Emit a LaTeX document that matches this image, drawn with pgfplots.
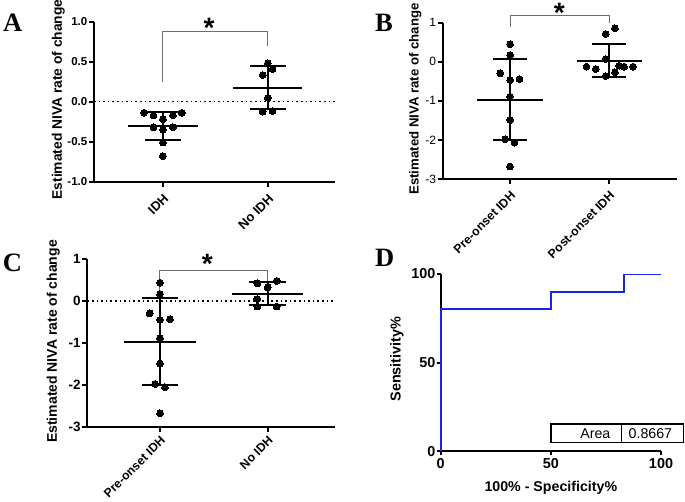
\documentclass[border=0pt]{standalone}
\usepackage{fontspec}
\setmainfont{Liberation Sans}
\newfontfamily\panelfont{Liberation Serif}
\usepackage{pgfplots}
\pgfplotsset{compat=1.18}
\definecolor{roc}{RGB}{25,35,235}
\definecolor{brk}{RGB}{110,110,110}
\pgfplotsset{
  gp/.style={
    scale only axis, clip=false,
    axis lines=left,
    axis line style={-, line width=1.7pt, black},
    every tick/.style={black, line width=1.7pt},
    tick align=outside,
    major tick length=5pt,
    xtick={0,1},
    every axis plot/.append style={black, line width=1.7pt},
    yticklabel style={inner sep=1.5pt},
    /pgf/number format/assume math mode=true,
  },
  rotlab/.style={xticklabel style={rotate=45, anchor=north east, inner sep=1pt}, xticklabel shift=5pt},
  dots/.style={only marks, mark=*, mark size=3.4pt, mark options={fill=black, draw=black, line width=0pt}},
  mean/.style={black, line width=1.8pt},
  brack/.style={brk, line width=1pt},
  zero/.style={black, line width=1.6pt, dash pattern=on 1.6pt off 3pt},
}
\begin{document}
\begin{tikzpicture}
\path[use as bounding box] (0pt,0pt) rectangle (685pt,501pt);

% Panel letters
\node[anchor=base, inner sep=0pt, font=\panelfont\fontsize{26.5}{28}\selectfont\bfseries] at (12.7pt,469.3pt) {A};
\node[anchor=base, inner sep=0pt, font=\panelfont\fontsize{26.5}{28}\selectfont\bfseries] at (384pt,469.3pt) {B};
\node[anchor=base, inner sep=0pt, font=\panelfont\fontsize{26.5}{28}\selectfont\bfseries] at (12.5pt,229.3pt) {C};
\node[anchor=base, inner sep=0pt, font=\panelfont\fontsize{26.5}{28}\selectfont\bfseries] at (384.7pt,234.3pt) {D};

% ---------------- Panel A ----------------
\begin{axis}[gp, rotlab, at={(94pt,319.3pt)}, anchor=south west, width=241pt, height=160pt,
  xmin=-0.657, xmax=1.64, ymin=-1, ymax=1,
  ytick={-1,-0.5,0,0.5,1}, yticklabels={-1.0,-0.5,0.0,0.5,1.0},
  xticklabels={IDH,No IDH},
  yticklabel style={font=\fontsize{11.5}{13}\selectfont\bfseries},
  xticklabel style={font=\fontsize{13}{15}\selectfont\bfseries},
  ylabel={Estimated NIVA rate of change},
  ylabel style={at={(axis description cs:-0.12,0.514)}, anchor=south, inner sep=0pt, font=\fontsize{13.8}{15}\selectfont\bfseries},
]
\addplot[zero] coordinates {(-0.657,0) (1.64,0)};
\addplot[brack] coordinates {(0,0.24) (0,0.883) (1,0.883) (1,0.696)};
% IDH
\addplot[mean] coordinates {(-0.33,-0.304) (0.33,-0.304)};
\addplot[mean] coordinates {(-0.17,-0.125) (0.17,-0.125)};
\addplot[mean] coordinates {(-0.17,-0.479) (0.17,-0.479)};
\addplot[mean] coordinates {(0,-0.125) (0,-0.479)};
\addplot[dots] coordinates {(-0.18,-0.14) (-0.09,-0.17) (0,-0.22) (0.095,-0.17) (0.18,-0.14)
  (-0.09,-0.32) (0,-0.35) (0.095,-0.32) (0,-0.51) (0,-0.68)};
% No IDH
\addplot[mean] coordinates {(0.67,0.171) (1.33,0.171)};
\addplot[mean] coordinates {(0.83,0.446) (1.17,0.446)};
\addplot[mean] coordinates {(0.83,-0.096) (1.17,-0.096)};
\addplot[mean] coordinates {(1,0.446) (1,-0.096)};
\addplot[dots] coordinates {(1,0.479) (1.045,0.408) (0.95,0.333) (1,0.05) (0.95,-0.125) (1.045,-0.117)};
\node[anchor=north, inner sep=0pt, font=\fontsize{28}{30}\selectfont\bfseries] at (axis cs:0.44,1.04) {*};
\end{axis}

% ---------------- Panel B ----------------
\begin{axis}[gp, rotlab, at={(442.7pt,322pt)}, anchor=south west, width=234pt, height=156.3pt,
  xmin=-0.68, xmax=1.68, ymin=-3, ymax=1,
  ytick={-3,-2,-1,0,1}, yticklabels={-3,-2,-1,0,1},
  xticklabels={Pre-onset IDH,Post-onset IDH},
  yticklabel style={font=\fontsize{12}{14}\selectfont},
  xticklabel style={font=\fontsize{12.3}{14}\selectfont\bfseries},
  ylabel={Estimated NIVA rate of change},
  ylabel style={at={(axis description cs:-0.09,0.512)}, anchor=south, inner sep=0pt, font=\fontsize{13.2}{15}\selectfont\bfseries},
]
\addplot[brack] coordinates {(0,0.9) (0,1.19) (1,1.19) (1,1.0)};
% Pre-onset
\addplot[mean] coordinates {(-0.33,-0.97) (0.33,-0.97)};
\addplot[mean] coordinates {(-0.17,0.062) (0.17,0.062)};
\addplot[mean] coordinates {(-0.17,-2.01) (0.17,-2.01)};
\addplot[mean] coordinates {(0,0.062) (0,-2.01)};
\addplot[dots] coordinates {(0,0.446) (0,0.173) (-0.1,-0.296) (0,-0.467) (0.094,-0.441)
  (0,-0.893) (0,-1.49) (-0.05,-1.985) (0.044,-2.07) (0,-2.68)};
% Post-onset
\addplot[mean] coordinates {(0.67,0.03) (1.33,0.03)};
\addplot[mean] coordinates {(0.83,0.446) (1.17,0.446)};
\addplot[mean] coordinates {(0.83,-0.38) (1.17,-0.38)};
\addplot[mean] coordinates {(1,0.446) (1,-0.38)};
\addplot[dots] coordinates {(1.057,0.855) (0.963,0.71) (0.963,0.07) (0.77,-0.126) (0.865,-0.186)
  (1.1,-0.10) (1.15,-0.126) (1.24,-0.126) (1.057,-0.27) (0.963,-0.365)};
\node[anchor=north, inner sep=0pt, font=\fontsize{28}{30}\selectfont\bfseries] at (axis cs:0.495,1.51) {*};
\end{axis}

% ---------------- Panel C ----------------
\begin{axis}[gp, rotlab, xticklabel shift=2pt, at={(87.3pt,74.3pt)}, anchor=south west, width=247.7pt, height=167.4pt,
  xmin=-0.675, xmax=1.625, ymin=-3, ymax=1,
  ytick={-3,-2,-1,0,1}, yticklabels={-3,-2,-1,0,1},
  xticklabels={Pre-onset IDH,No IDH},
  yticklabel style={font=\fontsize{13.5}{15}\selectfont\bfseries},
  xticklabel style={font=\fontsize{12.2}{14}\selectfont\bfseries},
  ylabel={Estimated NIVA rate of change},
  ylabel style={at={(axis description cs:-0.11,0.509)}, anchor=south, inner sep=0pt, font=\fontsize{14}{16}\selectfont\bfseries},
]
\addplot[zero] coordinates {(-0.675,0) (1.625,0)};
\addplot[brack] coordinates {(0,0.1) (0,0.744) (1,0.744) (1,0.46)};
% Pre-onset
\addplot[mean] coordinates {(-0.33,-0.968) (0.33,-0.968)};
\addplot[mean] coordinates {(-0.17,0.076) (0.17,0.076)};
\addplot[mean] coordinates {(-0.17,-2.004) (0.17,-2.004)};
\addplot[mean] coordinates {(0,0.076) (0,-2.004)};
\addplot[dots] coordinates {(0,0.442) (0,0.17) (-0.096,-0.29) (0,-0.45) (0.093,-0.43)
  (0,-0.89) (0,-1.49) (-0.046,-1.98) (0.046,-2.06) (0,-2.68)};
% No IDH
\addplot[mean] coordinates {(0.67,0.18) (1.33,0.18)};
\addplot[mean] coordinates {(0.83,0.45) (1.17,0.45)};
\addplot[mean] coordinates {(0.83,-0.10) (1.17,-0.10)};
\addplot[mean] coordinates {(1,0.45) (1,-0.10)};
\addplot[dots] coordinates {(0.904,0.426) (1.084,0.482) (1,0.33) (0.904,0.052) (0.904,-0.13) (1.084,-0.13)};
\node[anchor=north, inner sep=0pt, font=\fontsize{28}{30}\selectfont\bfseries] at (axis cs:0.44,1.127) {*};
\end{axis}

% ---------------- Panel D ----------------
\begin{axis}[gp, at={(440.7pt,49.7pt)}, anchor=south west, width=220.3pt, height=177.3pt,
  xmin=0, xmax=100, ymin=0, ymax=100,
  xtick={0,50,100}, ytick={0,50,100},
  major tick length=4pt,
  ticklabel style={font=\fontsize{14.4}{16}\selectfont\bfseries},
  yticklabel style={inner sep=1pt},
  xlabel={100\% - Specificity\%},
  ylabel={Sensitivity\%},
  xlabel style={at={(axis description cs:0.5,-0.207)}, anchor=center, inner sep=0pt, font=\fontsize{14.2}{16}\selectfont\bfseries},
  ylabel style={at={(axis description cs:-0.167,0.52)}, anchor=south, inner sep=0pt, font=\fontsize{14.4}{16}\selectfont\bfseries},
]
\addplot[roc, line width=2pt] coordinates {(0,0) (0,80) (50,80) (50,90) (83.33,90) (83.33,100)};
\addplot[roc, line width=1pt] coordinates {(83.33,100) (100,100)};
\draw[black, line width=1.4pt] (axis cs:50,4.85) rectangle (axis cs:110.3,15.4);
\draw[black, line width=1.4pt] (axis cs:82,4.85) -- (axis cs:82,15.4);
\node[anchor=east, font=\fontsize{14.2}{16}\selectfont, inner sep=0pt] at (axis cs:77.1,10.1) {Area};
\node[anchor=center, font=\fontsize{14.2}{16}\selectfont, inner sep=0pt] at (axis cs:95.2,10.1) {0.8667};
\end{axis}
\end{tikzpicture}
\end{document}
